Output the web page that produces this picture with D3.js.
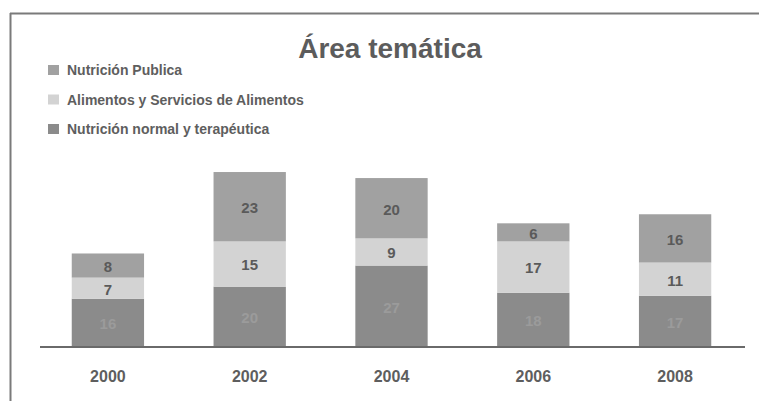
<!DOCTYPE html>
<html>
<head>
<meta charset="utf-8">
<script src="https://cdn.jsdelivr.net/npm/d3@7"></script>
<style>
  html, body { margin: 0; padding: 0; background: #ffffff; }
  svg { display: block; }
  text { font-family: "Liberation Sans", Arial, sans-serif; font-weight: bold; }
</style>
</head>
<body>
<svg id="chart" width="759" height="401"></svg>
<script>
// ---- data ----
const years = ["2000", "2002", "2004", "2006", "2008"];
const seriesNames = ["Nutrición normal y terapéutica", "Alimentos y Servicios de Alimentos", "Nutrición Publica"];
const nutricionNormal = [16, 20, 27, 18, 17];
const alimentosServicios = [7, 15, 9, 17, 11];
const nutricionPublica = [8, 23, 20, 6, 16];
const legendOrder = ["Nutrición Publica", "Alimentos y Servicios de Alimentos", "Nutrición normal y terapéutica"];
const titleText = "Área temática";

// ---- styles ----
const colors = {
  "Nutrición normal y terapéutica": "#8b8b8b",
  "Alimentos y Servicios de Alimentos": "#d3d3d3",
  "Nutrición Publica": "#a1a1a1"
};
const labelColors = {
  "Nutrición normal y terapéutica": "#9b9b9b",
  "Alimentos y Servicios de Alimentos": "#5a5a5a",
  "Nutrición Publica": "#5a5a5a"
};

const table = years.map((y, i) => ({
  year: y,
  "Nutrición normal y terapéutica": nutricionNormal[i],
  "Alimentos y Servicios de Alimentos": alimentosServicios[i],
  "Nutrición Publica": nutricionPublica[i]
}));

const svg = d3.select("#chart");

// frame
svg.append("line").attr("x1", 10.5).attr("x2", 10.5).attr("y1", 13).attr("y2", 401)
  .attr("stroke", "#7a7a7a").attr("stroke-width", 2);
svg.append("line").attr("x1", 10).attr("x2", 759).attr("y1", 13.5).attr("y2", 13.5)
  .attr("stroke", "#7a7a7a").attr("stroke-width", 2);

// scales
const x = d3.scaleBand().domain(years).range([37, 746]).paddingInner(0.49).paddingOuter(0.245);
const y = d3.scaleLinear().domain([0, 60]).range([347, 166]);

const stack = d3.stack().keys(seriesNames);
const stacked = stack(table);

const g = svg.append("g");
stacked.forEach(layer => {
  const key = layer.key;
  g.selectAll(null).data(layer).enter().append("rect")
    .attr("x", d => x(d.data.year))
    .attr("width", x.bandwidth())
    .attr("y", d => y(d[1]))
    .attr("height", d => y(d[0]) - y(d[1]))
    .attr("fill", colors[key]);
  g.selectAll(null).data(layer).enter().append("text")
    .attr("x", d => x(d.data.year) + x.bandwidth() / 2)
    .attr("y", d => (y(d[0]) + y(d[1])) / 2 + 1)
    .attr("dy", "0.36em")
    .attr("text-anchor", "middle")
    .attr("font-size", 15)
    .attr("fill", labelColors[key])
    .text(d => d.data[key]);
});

// axis baseline
svg.append("line").attr("x1", 40).attr("x2", 745).attr("y1", y(0)).attr("y2", y(0))
  .attr("stroke", "#6a6a6a").attr("stroke-width", 2);

// x axis labels
const xAxis = d3.axisBottom(x).tickSize(0).tickPadding(0);
const ax = svg.append("g").attr("transform", `translate(0, ${y(0)})`).call(xAxis);
ax.select(".domain").remove();
ax.selectAll("text")
  .attr("y", 34.5).attr("dy", 0)
  .attr("font-size", 16)
  .attr("font-family", "Liberation Sans, Arial, sans-serif")
  .attr("font-weight", "bold")
  .attr("fill", "#5e5e5e");

// title
svg.append("text").attr("x", 390).attr("y", 58).attr("text-anchor", "middle")
  .attr("font-size", 28).attr("fill", "#5c5c5c").text(titleText);

// legend
const lg = svg.append("g");
legendOrder.forEach((name, i) => {
  const yy = 75 + i * 29.5;
  lg.append("rect").attr("x", 48).attr("y", yy - 10).attr("width", 11).attr("height", 10)
    .attr("fill", colors[name]);
  lg.append("text").attr("x", 67).attr("y", yy).attr("font-size", 14)
    .attr("fill", "#5e5e5e").text(name);
});
</script>
</body>
</html>
